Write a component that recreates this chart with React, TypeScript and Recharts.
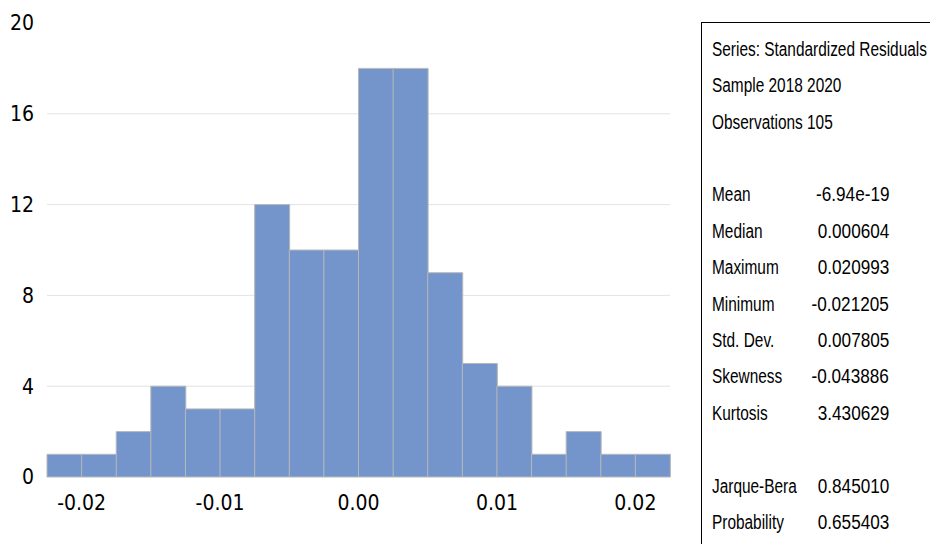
import { BarChart, Bar, XAxis, YAxis, CartesianGrid } from "recharts";

// histogram of standardized residuals, bin width 0.0025
const binCenters = [
  -0.02125, -0.01875, -0.01625, -0.01375, -0.01125, -0.00875, -0.00625, -0.00375, -0.00125,
  0.00125, 0.00375, 0.00625, 0.00875, 0.01125, 0.01375, 0.01625, 0.01875, 0.02125,
];
const counts = [1, 1, 2, 4, 3, 3, 12, 10, 10, 18, 18, 9, 5, 4, 1, 2, 1, 1];
const xTicks = [-0.02, -0.01, 0, 0.01, 0.02];
const yTicks = [0, 4, 8, 12, 16, 20];
const gridValues = [4, 8, 12, 16];

const headerLines = ["Series: Standardized Residuals", "Sample 2018 2020", "Observations 105"];
const statLabels = ["Mean", "Median", "Maximum", "Minimum", "Std. Dev.", "Skewness", "Kurtosis"];
const statValues = ["-6.94e-19", "0.000604", "0.020993", "-0.021205", "0.007805", "-0.043886", "3.430629"];
const testLabels = ["Jarque-Bera", "Probability"];
const testValues = ["0.845010", "0.655403"];

const data = binCenters.map((x, i) => ({ x, count: counts[i] }));

const AXIS_FONT = '"DejaVu Sans Condensed", "Noto Sans", sans-serif';
const BOX_FONT = '"Liberation Sans", Arial, sans-serif';
const ROW = 36.4;

export default function App() {
  const rows: { label: string; value?: string }[] = [
    ...headerLines.map((l) => ({ label: l })),
    { label: "" },
    ...statLabels.map((l, i) => ({ label: l, value: statValues[i] })),
    { label: "" },
    ...testLabels.map((l, i) => ({ label: l, value: testValues[i] })),
  ];

  return (
    <div
      style={{
        position: "absolute",
        left: 0,
        top: 0,
        width: 930,
        height: 544,
        overflow: "hidden",
        background: "#fff",
      }}
    >
      <BarChart
        width={690}
        height={544}
        data={data}
        margin={{ top: 23, right: 20, left: 0, bottom: 17 }}
        barCategoryGap={0}
        barGap={0}
      >
        <CartesianGrid vertical={false} horizontalValues={gridValues} stroke="#e3e3e3" />
        <XAxis
          dataKey="x"
          type="number"
          domain={[-0.0225, 0.0225]}
          ticks={xTicks}
          tickFormatter={(v: number) => v.toFixed(2)}
          axisLine={false}
          tickLine={false}
          tickSize={0}
          tickMargin={18}
          height={50}
          tick={{ fill: "#000", fontSize: 21, fontFamily: AXIS_FONT }}
        />
        <YAxis
          domain={[0, 20]}
          ticks={yTicks}
          axisLine={false}
          tickLine={false}
          tickSize={0}
          tickMargin={13}
          width={47}
          tick={{ fill: "#000", fontSize: 21, fontFamily: AXIS_FONT }}
        />
        <Bar dataKey="count" fill="#7395cb" stroke="#b8b8b8" strokeWidth={1} isAnimationActive={false} />
      </BarChart>

      <div
        style={{
          position: "absolute",
          left: 701,
          top: 22,
          width: 260,
          height: 560,
          borderLeft: "1px solid #000",
          borderTop: "1px solid #000",
        }}
      />
      {rows.map((r, i) => (
        <div
          key={i}
          style={{
            position: "absolute",
            left: 712,
            top: 49 + i * ROW - ROW / 2,
            height: ROW,
            lineHeight: `${ROW}px`,
            fontSize: 19.5,
            fontFamily: BOX_FONT,
            color: "#000",
            whiteSpace: "nowrap",
            width: 177,
          }}
        >
          <span style={{ display: "inline-block", transform: "scaleX(0.79)", transformOrigin: "left center" }}>
            {r.label}
          </span>
          {r.value && (
            <span
              style={{
                position: "absolute",
                right: 0,
                display: "inline-block",
                transform: "scaleX(0.88)",
                transformOrigin: "right center",
              }}
            >
              {r.value}
            </span>
          )}
        </div>
      ))}
    </div>
  );
}
